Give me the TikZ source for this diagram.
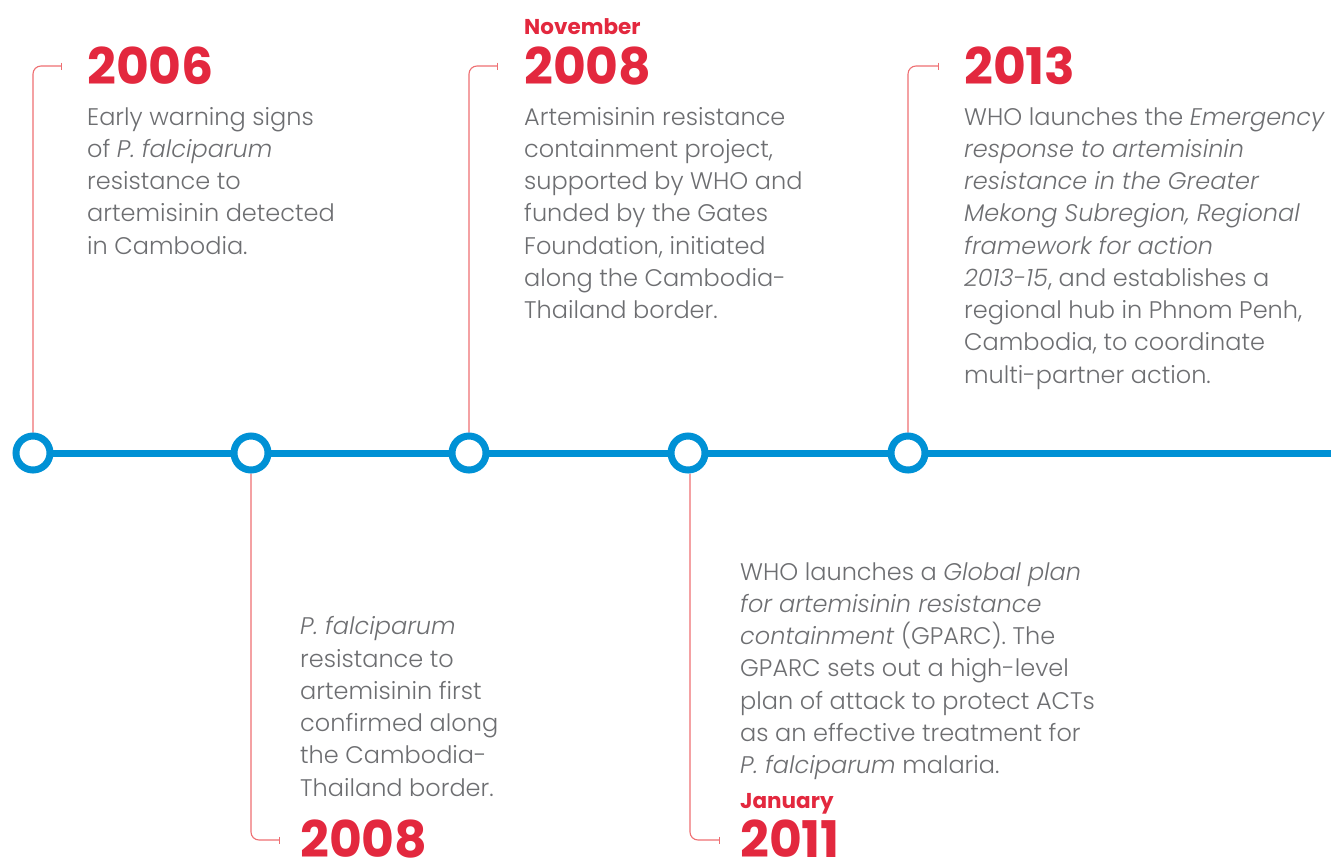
\documentclass[tikz,border=0pt]{standalone}
\usepackage{fontspec}
\usetikzlibrary{arrows.meta}
\newfontfamily\bodyfont{Poppins}[UprightFont=* Light, ItalicFont=* Light Italic]
\newfontfamily\yearfont{Poppins}[UprightFont=* Bold]
\definecolor{tlblue}{HTML}{0091D5}
\definecolor{yred}{HTML}{E3283E}
\definecolor{lred}{HTML}{EE6F72}
\definecolor{tgray}{HTML}{6D6E71}
\pgfdeclarelayer{bg}
\pgfsetlayers{bg,main}
\begin{document}
\begin{tikzpicture}[x=1pt,y=-1pt,
 dot/.style={circle,draw=tlblue,line width=7pt,fill=white,minimum size=34pt,inner sep=0pt},
 link/.style={draw=lred,line width=1.1pt,rounded corners=8pt,-{Bar[width=7pt,line width=1.1pt]}},
 year/.style={anchor=base west,inner sep=0pt,text=yred,font=\yearfont\fontsize{50.5}{52}\selectfont},
 month/.style={anchor=base west,inner sep=0pt,text=yred,font=\yearfont\fontsize{21.5}{23}\selectfont},
 body/.style={anchor=base west,inner sep=0pt,text=tgray,align=left,font=\bodyfont\fontsize{24}{32.25}\selectfont}]
\useasboundingbox (0,0) rectangle (1331,860);
% circles
\node[dot] (c1) at (33,453) {};
\node[dot] (c2) at (251,453) {};
\node[dot] (c3) at (469,453) {};
\node[dot] (c4) at (688,453) {};
\node[dot] (c5) at (908,453) {};
\coordinate (tend) at (1331,453);
% link end points
\coordinate (t1) at (62,66);
\coordinate (t2) at (280,840);
\coordinate (t3) at (498,66);
\coordinate (t4) at (720,840);
\coordinate (t5) at (939,66);
\begin{pgfonlayer}{bg}
\draw[tlblue,line width=7pt] (c1.center) -- (tend);
\draw[link] (c1.north) |- (t1);
\draw[link] (c2.south) |- (t2);
\draw[link] (c3.north) |- (t3);
\draw[link] ([xshift=2pt]c4.south) |- (t4);
\draw[link] (c5.north) |- (t5);
\end{pgfonlayer}
% 2006
\node[year] (y1) at (87,84) {2006};
\node[body] (b1) at (87,254) {Early warning signs\\of \textit{P. falciparum}\\resistance to\\artemisinin detected\\in Cambodia.};
% Nov 2008
\node[month] (m3) at (524,34) {November};
\node[year] (y3) at (524,84) {2008};
\node[body] (b3) at (524,318.5) {Artemisinin resistance\\containment project,\\supported by WHO and\\funded by the Gates\\Foundation, initiated\\along the Cambodia-\\Thailand border.};
% 2013
\node[year] (y5) at (964,84) {2013};
\node[body] (b5) at (964,383) {WHO launches the \textit{Emergency}\\\textit{response to artemisinin}\\\textit{resistance in the Greater}\\\textit{Mekong Subregion, Regional}\\\textit{framework for action}\\\textit{2013-15}, and establishes a\\regional hub in Phnom Penh,\\Cambodia, to coordinate\\multi-partner action.};
% 2008 bottom
\node[body] (b2) at (300,796) {\textit{P. falciparum}\\resistance to\\artemisinin first\\confirmed along\\the Cambodia-\\Thailand border.};
\node[year] (y2) at (300,857) {2008};
% 2011
\node[body] (b4) at (740,773.5) {WHO launches a \textit{Global plan}\\\textit{for artemisinin resistance}\\\textit{containment} (GPARC). The\\GPARC sets out a high-level\\plan of attack to protect ACTs\\as an effective treatment for\\\textit{P. falciparum} malaria.};
\node[month] (m4) at (740,808) {January};
\node[year] (y4) at (740,857) {2011};
\end{tikzpicture}
\end{document}
